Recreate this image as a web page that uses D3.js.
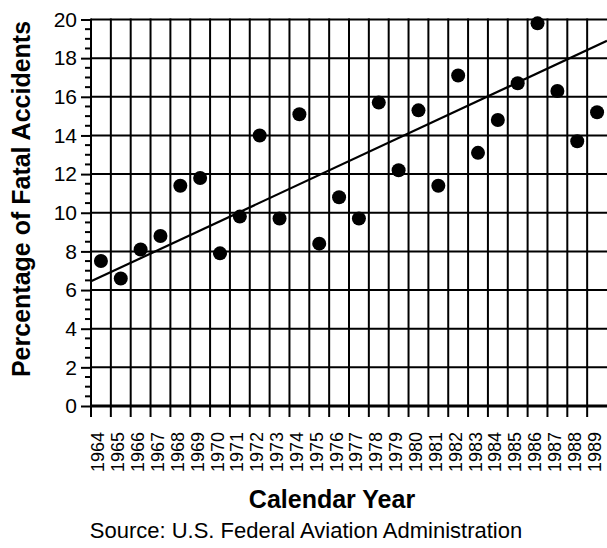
<!DOCTYPE html>
<html>
<head>
<meta charset="utf-8">
<script src="https://cdn.jsdelivr.net/npm/d3@7"></script>
<style>
  html, body { margin: 0; padding: 0; background: #fff; }
  svg { display: block; font-family: "Liberation Sans", Arial, Helvetica, sans-serif; }
</style>
</head>
<body>
<script>
// Share of accidents that were fatal, per calendar year
const years = [1964, 1965, 1966, 1967, 1968, 1969, 1970, 1971, 1972, 1973, 1974, 1975, 1976,
               1977, 1978, 1979, 1980, 1981, 1982, 1983, 1984, 1985, 1986, 1987, 1988, 1989];
const fatalPct = [7.5, 6.6, 8.1, 8.8, 11.4, 11.8, 7.9, 9.8, 14.0, 9.7, 15.1, 8.4, 10.8,
                  9.7, 15.7, 12.2, 15.3, 11.4, 17.1, 13.1, 14.8, 16.7, 19.8, 16.3, 13.7, 15.2];
// Trend line end values at the left and right edges of the plot
const trendValues = [6.45, 18.9];
const yTicks = [0, 2, 4, 6, 8, 10, 12, 14, 16, 18, 20];
const yMinorTicks = d3.range(0, 20.01, 0.5);

const W = 607, H = 548;
const plotLeft = 91, plotRight = 607, plotTop = 19.5, plotBottom = 406;

const svg = d3.select("body").append("svg").attr("width", W).attr("height", H);

const x = d3.scaleLinear()
  .domain([years[0] - 0.5, years[years.length - 1] + 0.5])
  .range([plotLeft, plotRight]);
const y = d3.scaleLinear().domain([0, 20]).range([plotBottom, plotTop]);

// Horizontal grid lines every 2 percent
svg.append("g").selectAll("line").data(yTicks.filter(d => d > 0)).join("line")
  .attr("x1", plotLeft).attr("x2", plotRight)
  .attr("y1", d => y(d)).attr("y2", d => y(d))
  .attr("stroke", "#000").attr("stroke-width", 2);

// Vertical lines between years, continuing below the baseline as ticks
const bounds = years.map(d => d - 0.5);
svg.append("g").selectAll("line").data(bounds).join("line")
  .attr("x1", d => x(d)).attr("x2", d => x(d))
  .attr("y1", plotTop - 1).attr("y2", plotBottom + 11)
  .attr("stroke", "#000").attr("stroke-width", 2);

// Baseline
svg.append("line")
  .attr("x1", plotLeft - 1).attr("x2", plotRight)
  .attr("y1", y(0)).attr("y2", y(0))
  .attr("stroke", "#000").attr("stroke-width", 3);

// Y axis with major and minor ticks
const yAxis = d3.axisLeft(y).tickValues(yTicks).tickSize(10).tickPadding(4).tickFormat(d3.format("d"));
const gy = svg.append("g").attr("transform", `translate(${plotLeft},0)`).call(yAxis);
gy.select(".domain").remove();
gy.selectAll(".tick line").attr("stroke", "#000").attr("stroke-width", 2);
gy.selectAll(".tick text").attr("font-size", 21).attr("fill", "#000")
  .attr("font-family", "Liberation Sans, Arial, sans-serif");
svg.append("g").selectAll("line").data(yMinorTicks.filter(d => d % 2 !== 0)).join("line")
  .attr("x1", plotLeft - 6).attr("x2", plotLeft)
  .attr("y1", d => y(d)).attr("y2", d => y(d))
  .attr("stroke", "#000").attr("stroke-width", 2);

// Year labels, rotated
svg.append("g").selectAll("text").data(years).join("text")
  .attr("transform", d => `translate(${x(d) + 3.5},432) rotate(-90)`)
  .attr("text-anchor", "end")
  .attr("font-size", 18)
  .text(d => d);

// Trend line
svg.append("line")
  .attr("x1", x.range()[0]).attr("x2", x.range()[1])
  .attr("y1", y(trendValues[0])).attr("y2", y(trendValues[1]))
  .attr("stroke", "#000").attr("stroke-width", 2.2);

// Yearly points
svg.append("g").selectAll("circle").data(years).join("circle")
  .attr("cx", d => x(d))
  .attr("cy", (d, i) => y(fatalPct[i]))
  .attr("r", 7)
  .attr("fill", "#000");

// Titles
svg.append("text")
  .attr("transform", "translate(30,199) rotate(-90)")
  .attr("text-anchor", "middle")
  .attr("font-size", 25).attr("font-weight", "bold")
  .text("Percentage of Fatal Accidents");

svg.append("text")
  .attr("x", 332).attr("y", 508)
  .attr("text-anchor", "middle")
  .attr("font-size", 25).attr("font-weight", "bold")
  .text("Calendar Year");

svg.append("text")
  .attr("x", 306).attr("y", 538)
  .attr("text-anchor", "middle")
  .attr("font-size", 22)
  .text("Source: U.S. Federal Aviation Administration");
</script>
</body>
</html>
